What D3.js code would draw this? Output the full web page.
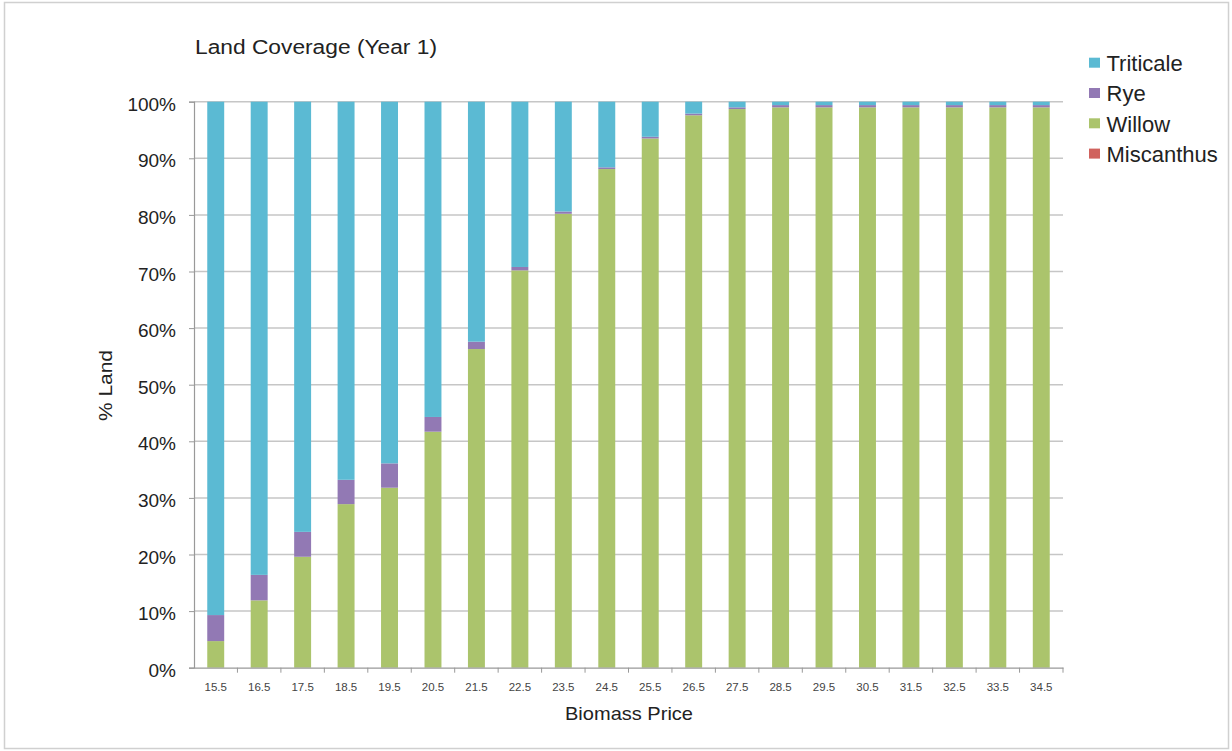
<!DOCTYPE html>
<html>
<head>
<meta charset="utf-8">
<script src="https://cdn.jsdelivr.net/npm/d3@7"></script>
<style>
  body { margin: 0; background: #fff; }
  svg { font-family: "Liberation Sans", Arial, sans-serif; }
</style>
</head>
<body>
<svg id="chart" width="1232" height="751"></svg>
<script>
// biomass price categories
const prices = ["15.5","16.5","17.5","18.5","19.5","20.5","21.5","22.5","23.5","24.5",
  "25.5","26.5","27.5","28.5","29.5","30.5","31.5","32.5","33.5","34.5"];

// % of land per crop
const miscanthus = [0,0,0,0,0,0,0,0,0,0,0,0,0,0,0,0,0,0,0,0];
const willow = [4.7,11.9,19.6,28.9,31.8,41.7,56.3,70.2,80.2,88.1,
  93.5,97.6,98.7,99.0,99.0,99.0,99.0,99.0,99.0,99.0];
const rye = [4.6,4.5,4.4,4.3,4.3,2.6,1.3,0.6,0.4,0.3,
  0.3,0.3,0.3,0.4,0.4,0.4,0.4,0.4,0.4,0.4];
const triticale = prices.map((p, i) => 100 - miscanthus[i] - willow[i] - rye[i]);

const yTicks = [0,10,20,30,40,50,60,70,80,90,100];

const series = [
  { name: "Miscanthus", values: miscanthus, color: "#d0625d" },
  { name: "Willow", values: willow, color: "#abc46c" },
  { name: "Rye", values: rye, color: "#9279b4" },
  { name: "Triticale", values: triticale, color: "#5bbad3" }
];
const legendOrder = ["Triticale", "Rye", "Willow", "Miscanthus"];

const svg = d3.select("svg#chart");

// outer frame
svg.append("rect").attr("x", 4.5).attr("y", 2.5).attr("width", 1224).attr("height", 746)
  .attr("fill", "none").attr("stroke", "#d0d0d0").attr("stroke-width", 1.5);

const plotL = 194, plotR = 1063, plotT = 101.7, plotB = 667.7;

const x = d3.scaleBand().domain(prices).range([plotL, plotR]).paddingInner(0.61).paddingOuter(0.305);
const xb = d3.scaleBand().domain(prices).range([plotL, plotR]);
const y = d3.scaleLinear().domain([0, 100]).range([plotB, plotT]);

// gridlines
svg.append("g").selectAll("line").data(yTicks.filter(t => t > 0)).enter()
  .append("line")
  .attr("x1", plotL).attr("x2", plotR)
  .attr("y1", d => y(d)).attr("y2", d => y(d))
  .attr("stroke", "#c6c6c6").attr("stroke-width", 1.5);

// stacked bars
const rows = prices.map((p, i) => {
  const r = { price: p };
  series.forEach(s => r[s.name] = s.values[i]);
  return r;
});
const stacked = d3.stack().keys(series.map(s => s.name))(rows);

svg.append("g").selectAll("g").data(stacked).enter()
  .append("g").attr("fill", (d, i) => series[i].color)
  .selectAll("rect").data(d => d).enter()
  .append("rect")
  .attr("x", d => x(d.data.price))
  .attr("width", x.bandwidth())
  .attr("y", d => y(d[1]))
  .attr("height", d => Math.max(0, y(d[0]) - y(d[1])));

// y axis
const yAxis = svg.append("g").attr("transform", `translate(${plotL},0)`)
  .call(d3.axisLeft(y).tickValues(yTicks).tickFormat(d => d + "%").tickSize(5).tickPadding(13));
yAxis.select(".domain").attr("stroke", "#999").attr("stroke-width", 1.2);
yAxis.selectAll(".tick line").attr("stroke", "#999");
yAxis.selectAll(".tick text").attr("font-size", 19).attr("fill", "#222").attr("dy", "0.45em")
  .attr("font-family", "Liberation Sans, Arial, sans-serif");

// x axis
const xAxis = svg.append("g").attr("transform", `translate(0,${plotB})`)
  .call(d3.axisBottom(x).tickSize(0).tickPadding(15));
xAxis.select(".domain").attr("stroke", "#999").attr("stroke-width", 1.2);
xAxis.selectAll(".tick text").attr("font-size", 11.5).attr("fill", "#444")
  .attr("font-family", "Liberation Sans, Arial, sans-serif");
svg.append("g").selectAll("line").data(prices.slice(1).concat(["end"])).enter()
  .append("line")
  .attr("x1", d => d === "end" ? plotR : xb(d))
  .attr("x2", d => d === "end" ? plotR : xb(d))
  .attr("y1", plotB).attr("y2", plotB + 5)
  .attr("stroke", "#999").attr("stroke-width", 1);

// titles (the source font is wider than Liberation Sans, so stretch to the measured widths)
svg.append("text").attr("x", 195).attr("y", 54).attr("font-size", 19.5).attr("fill", "#222")
  .attr("textLength", 242).attr("lengthAdjust", "spacingAndGlyphs")
  .text("Land Coverage (Year 1)");
svg.append("text").attr("x", 565).attr("y", 720)
  .attr("font-size", 19).attr("fill", "#222")
  .attr("textLength", 128).attr("lengthAdjust", "spacingAndGlyphs")
  .text("Biomass Price");
svg.append("text").attr("transform", "translate(112,421) rotate(-90)")
  .attr("font-size", 19).attr("fill", "#222")
  .attr("textLength", 71).attr("lengthAdjust", "spacingAndGlyphs")
  .text("% Land");

// legend
const lg = svg.append("g").selectAll("g").data(legendOrder).enter()
  .append("g").attr("transform", (d, i) => `translate(1089,${71 + i * 30.3})`);
lg.append("rect").attr("x", 0).attr("y", -13.3).attr("width", 11).attr("height", 10)
  .attr("fill", d => series.find(s => s.name === d).color);
lg.append("text").attr("x", 17.5).attr("y", 0).attr("font-size", 22).attr("fill", "#222")
  .text(d => d);
</script>
</body>
</html>
